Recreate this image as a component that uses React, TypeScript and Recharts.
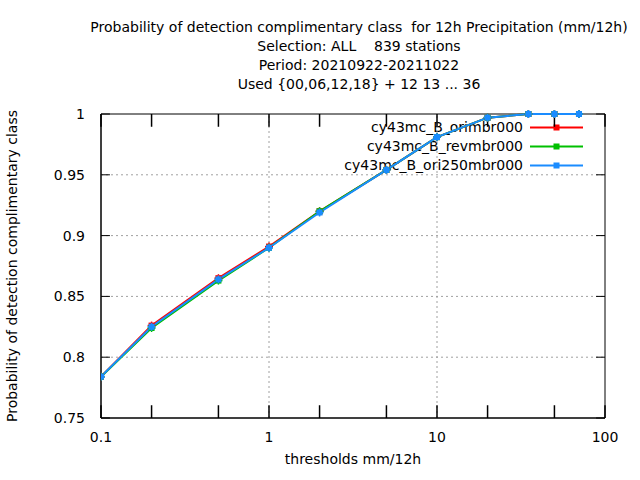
import { LineChart, Line, XAxis, YAxis, ReferenceLine, ReferenceArea } from 'recharts';

const thresholds = [0.1, 0.2, 0.5, 1, 2, 5, 10, 20, 35, 50, 70];
const orimbr = [0.784, 0.826, 0.865, 0.891, 0.920, 0.954, 0.981, 0.997, 1.0, 1.0, 1.0];
const revmbr = [0.784, 0.824, 0.863, 0.890, 0.920, 0.954, 0.981, 0.997, 1.0, 1.0, 1.0];
const ori250 = [0.784, 0.825, 0.864, 0.890, 0.919, 0.954, 0.981, 0.997, 1.0, 1.0, 1.0];
const xTicks = [0.1, 0.2, 0.5, 1, 2, 5, 10, 20, 50, 100];
const xLabels = [0.1, 1, 10, 100];
const yTicks = [0.75, 0.8, 0.85, 0.9, 0.95, 1];
const titles = [
  'Probability of detection complimentary class  for 12h Precipitation (mm/12h)',
  'Selection: ALL    839 stations',
  'Period: 20210922-20211022',
  'Used {00,06,12,18} + 12 13 ... 36',
];

const series = [
  { key: 'a', name: 'cy43mc_B_orimbr000', color: '#ff0000', values: orimbr },
  { key: 'b', name: 'cy43mc_B_revmbr000', color: '#00c000', values: revmbr },
  { key: 'c', name: 'cy43mc_B_ori250mbr000', color: '#1a8cff', values: ori250 },
];

const data = thresholds.map((t, i) => ({
  x: t,
  a: orimbr[i],
  b: revmbr[i],
  c: ori250[i],
}));

const font = '"DejaVu Sans", sans-serif';
const fs = 14;

const Dot = (color: string) => (props: any) => {
  const { cx, cy } = props;
  if (cx == null || cy == null) return <g />;
  return (
    <g>
      <rect x={cx - 3} y={cy - 3} width={6} height={6} fill={color} />
      <line x1={cx - 4} x2={cx + 4} y1={cy} y2={cy} stroke={color} strokeWidth={1.5} />
      <line x1={cx} x2={cx} y1={cy - 4} y2={cy + 4} stroke={color} strokeWidth={1.5} />
    </g>
  );
};

export default function App() {
  return (
    <div style={{ position: 'absolute', left: 0, top: 0, width: 640, height: 480, background: '#fff', overflow: 'hidden', fontFamily: font }}>
      {titles.map((t, i) => (
        <div key={i} style={{ position: 'absolute', left: 359 - 400, width: 800, top: 19 + i * 19, textAlign: 'center', fontSize: fs, whiteSpace: 'pre' }}>
          {t}
        </div>
      ))}
      <div style={{ position: 'absolute', top: 118, right: 57, textAlign: 'right', fontSize: fs, lineHeight: '19px' }}>
        {series.map((s) => (
          <div key={s.key} style={{ display: 'flex', justifyContent: 'flex-end', alignItems: 'center' }}>
            <span style={{ whiteSpace: 'pre' }}>{s.name}</span>
            <svg width={60} height={19}>
              <line x1={7} x2={60} y1={9.5} y2={9.5} stroke={s.color} strokeWidth={2} />
              <rect x={30.5} y={6.5} width={6} height={6} fill={s.color} />
            </svg>
          </div>
        ))}
      </div>
      <LineChart width={640} height={480} data={data} margin={{ top: 114, right: 35, bottom: 12, left: 20 }} style={{ position: 'absolute', left: 0, top: 0 }}>
        {[1, 10].map((v) => (
          <ReferenceLine key={'vx' + v} x={v} stroke="#a0a0a0" strokeDasharray="2 3" />
        ))}
        {yTicks.slice(1, -1).map((v) => (
          <ReferenceLine key={'hy' + v} y={v} stroke="#a0a0a0" strokeDasharray="2 3" />
        ))}
        {xTicks.map((v) => (
          <ReferenceLine key={'tb' + v} segment={[{ x: v, y: 0.75 }, { x: v, y: 0.7605 }]} stroke="#000" strokeWidth={1.5} />
        ))}
        {xTicks.map((v) => (
          <ReferenceLine key={'tt' + v} segment={[{ x: v, y: 1 }, { x: v, y: 0.9895 }]} stroke="#000" strokeWidth={1.5} />
        ))}
        {yTicks.map((v) => (
          <ReferenceLine key={'tl' + v} segment={[{ x: 0.1, y: v }, { x: 0.113, y: v }]} stroke="#000" />
        ))}
        {yTicks.map((v) => (
          <ReferenceLine key={'tr' + v} segment={[{ x: 88.5, y: v }, { x: 100, y: v }]} stroke="#000" />
        ))}
        <XAxis
          dataKey="x"
          type="number"
          scale="log"
          domain={[0.1, 100]}
          ticks={xTicks}
          tickFormatter={(v: number) => (xLabels.includes(v) ? String(v) : '')}
          allowDataOverflow
          height={50}
          stroke="#000"
          tickLine={false}
          tick={{ fill: '#000', fontSize: fs, fontFamily: font }}
          tickMargin={8}
          label={{ value: 'thresholds mm/12h', position: 'insideBottom', offset: 4, fill: '#000', fontSize: fs, fontFamily: font }}
        />
        <YAxis
          type="number"
          domain={[0.75, 1]}
          ticks={yTicks}
          width={81}
          stroke="#000"
          tickLine={false}
          tickMargin={10}
          tick={{ fill: '#000', fontSize: fs, fontFamily: font }}
          label={{ value: 'Probability of detection complimentary class', angle: -90, position: 'insideLeft', offset: -8, style: { textAnchor: 'middle' }, fill: '#000', fontSize: fs, fontFamily: font }}
        />
        <ReferenceArea x1={0.1} x2={100} y1={0.75} y2={1} fill="none" stroke="#000" strokeWidth={1} ifOverflow="visible" />
        {series.map((s) => (
          <Line
            key={s.key}
            dataKey={s.key}
            name={s.name}
            stroke={s.color}
            strokeWidth={2}
            dot={Dot(s.color)}
            type="linear"
            isAnimationActive={false}
          />
        ))}
      </LineChart>
    </div>
  );
}
